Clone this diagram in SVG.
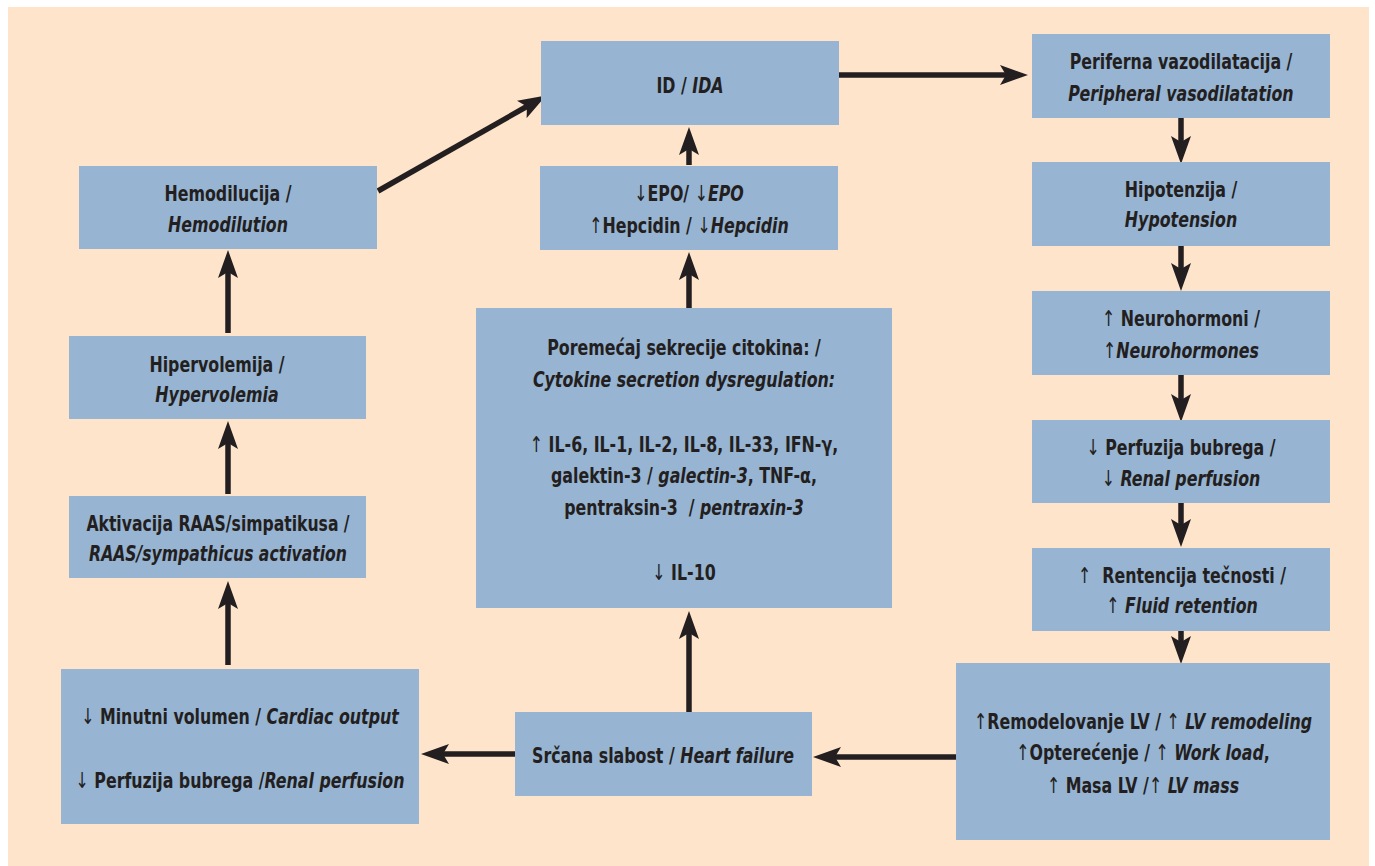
<svg xmlns="http://www.w3.org/2000/svg" width="1375" height="866" viewBox="0 0 1375 866">
<style>
.bg{fill:#FEE4CB}
.box{fill:#97B4D3}
text{font-family:"DejaVu Sans Condensed","DejaVu Sans",sans-serif;font-stretch:condensed;font-weight:bold;font-size:22px;fill:#231F20;text-anchor:middle}
.i{font-style:italic}
.a{font-weight:normal}
.c{fill:none;stroke:#231F20;stroke-width:5.5;marker-end:url(#ah)}
</style>
<defs>
<marker id="ah" viewBox="0 0 28 20" refX="13" refY="10" markerWidth="28" markerHeight="20" markerUnits="userSpaceOnUse" orient="auto">
<path d="M0,0 L28,10 L0,20 L6,10 Z" fill="#231F20"/>
</marker>
</defs>
<rect class="bg" x="8" y="7" width="1361" height="859"/>

<g id="connectors">
<line class="c" x1="228" y1="665" x2="228" y2="596"/>
<line class="c" x1="228" y1="494" x2="228" y2="436"/>
<line class="c" x1="228" y1="333" x2="228" y2="265"/>
<line class="c" x1="378" y1="191" x2="533" y2="103"/>
<line class="c" x1="838" y1="75" x2="1013" y2="75"/>
<line class="c" x1="1181" y1="118" x2="1181" y2="149"/>
<line class="c" x1="1181" y1="246" x2="1181" y2="276"/>
<line class="c" x1="1181" y1="375" x2="1181" y2="407"/>
<line class="c" x1="1181" y1="503" x2="1181" y2="532"/>
<line class="c" x1="1181" y1="631" x2="1181" y2="649"/>
<line class="c" x1="956" y1="757" x2="828" y2="757"/>
<line class="c" x1="515" y1="754" x2="436" y2="754"/>
<line class="c" x1="689" y1="712" x2="689" y2="626"/>
<line class="c" x1="689" y1="308" x2="689" y2="267"/>
<line class="c" x1="689" y1="165" x2="689" y2="142"/>
</g>

<g id="hemodilucija">
<rect class="box" x="79" y="166" width="298" height="83"/>
<g transform="translate(228 0) scale(0.8 1)">
<text x="0" y="201">Hemodilucija /</text>
<text x="0" y="232" class="i">Hemodilution</text>
</g>
</g>

<g id="hipervolemija">
<rect class="box" x="69" y="336" width="297" height="83"/>
<g transform="translate(217 0) scale(0.8 1)">
<text x="0" y="372">Hipervolemija /</text>
<text x="0" y="402" class="i">Hypervolemia</text>
</g>
</g>

<g id="aktivacija">
<rect class="box" x="69" y="496" width="297" height="82"/>
<g transform="translate(218 0) scale(0.79 1)">
<text x="0" y="531">Aktivacija RAAS/simpatikusa /</text>
<text x="0" y="561" class="i">RAAS/sympathicus activation</text>
</g>
</g>

<g id="minutni">
<rect class="box" x="61" y="669" width="358" height="155"/>
<g transform="translate(240 0) scale(0.8 1)">
<text x="0" y="724"><tspan class="a">↓</tspan> Minutni volumen / <tspan class="i">Cardiac output</tspan></text>
<text x="0" y="788"><tspan class="a">↓</tspan> Perfuzija bubrega /<tspan class="i">Renal perfusion</tspan></text>
</g>
</g>

<g id="srcana">
<rect class="box" x="515" y="712" width="297" height="84"/>
<g transform="translate(663 0) scale(0.8 1)">
<text x="0" y="763">Srčana slabost / <tspan class="i">Heart failure</tspan></text>
</g>
</g>

<g id="citokini">
<rect class="box" x="476" y="308" width="416" height="300"/>
<g transform="translate(684 0) scale(0.8 1)">
<text x="0" y="355">Poremećaj sekrecije citokina: /</text>
<text x="0" y="387" class="i">Cytokine secretion dysregulation:</text>
<text x="0" y="452"><tspan class="a">↑</tspan> IL-6, IL-1, IL-2, IL-8, IL-33, IFN-γ,</text>
<text x="0" y="483">galektin-3 / <tspan class="i">galectin-3</tspan>, TNF-α,</text>
<text x="0" y="515">pentraksin-3&#160; / <tspan class="i">pentraxin-3</tspan></text>
<text x="0" y="580"><tspan class="a">↓</tspan> IL-10</text>
</g>
</g>

<g id="id-ida">
<rect class="box" x="541" y="41" width="298" height="84"/>
<g transform="translate(690 0) scale(0.8 1)">
<text x="0" y="93">ID / <tspan class="i">IDA</tspan></text>
</g>
</g>

<g id="epo">
<rect class="box" x="540" y="166" width="298" height="84"/>
<g transform="translate(689 0) scale(0.8 1)">
<text x="0" y="201"><tspan class="a">↓</tspan>EPO/ <tspan class="a">↓</tspan><tspan class="i">EPO</tspan></text>
<text x="0" y="233"><tspan class="a">↑</tspan>Hepcidin / <tspan class="a">↓</tspan><tspan class="i">Hepcidin</tspan></text>
</g>
</g>

<g id="periferna">
<rect class="box" x="1032" y="34" width="298" height="84"/>
<g transform="translate(1181 0) scale(0.8 1)">
<text x="0" y="69">Periferna vazodilatacija /</text>
<text x="0" y="101" class="i">Peripheral vasodilatation</text>
</g>
</g>

<g id="hipotenzija">
<rect class="box" x="1032" y="162" width="298" height="84"/>
<g transform="translate(1181 0) scale(0.8 1)">
<text x="0" y="197">Hipotenzija /</text>
<text x="0" y="227" class="i">Hypotension</text>
</g>
</g>

<g id="neurohormoni">
<rect class="box" x="1032" y="291" width="298" height="84"/>
<g transform="translate(1181 0) scale(0.8 1)">
<text x="0" y="326"><tspan class="a">↑</tspan> Neurohormoni /</text>
<text x="0" y="358"><tspan class="a">↑</tspan><tspan class="i">Neurohormones</tspan></text>
</g>
</g>

<g id="perfuzija">
<rect class="box" x="1032" y="420" width="298" height="83"/>
<g transform="translate(1181 0) scale(0.8 1)">
<text x="0" y="455"><tspan class="a">↓</tspan> Perfuzija bubrega /</text>
<text x="0" y="486"><tspan class="a">↓</tspan> <tspan class="i">Renal perfusion</tspan></text>
</g>
</g>

<g id="retencija">
<rect class="box" x="1032" y="548" width="298" height="83"/>
<g transform="translate(1182 0) scale(0.8 1)">
<text x="0" y="583"><tspan class="a">↑</tspan>&#160; Rentencija tečnosti /</text>
<text x="0" y="613"><tspan class="a">↑</tspan> <tspan class="i">Fluid retention</tspan></text>
</g>
</g>

<g id="remodelovanje">
<rect class="box" x="956" y="663" width="374" height="177"/>
<g transform="translate(1143 0) scale(0.8 1)">
<text x="0" y="729"><tspan class="a">↑</tspan>Remodelovanje LV / <tspan class="a">↑</tspan> <tspan class="i">LV remodeling</tspan></text>
<text x="0" y="760"><tspan class="a">↑</tspan>Opterećenje / <tspan class="a">↑</tspan> <tspan class="i">Work load</tspan>,</text>
<text x="0" y="793"><tspan class="a">↑</tspan> Masa LV /<tspan class="a">↑</tspan> <tspan class="i">LV mass</tspan></text>
</g>
</g>
</svg>
